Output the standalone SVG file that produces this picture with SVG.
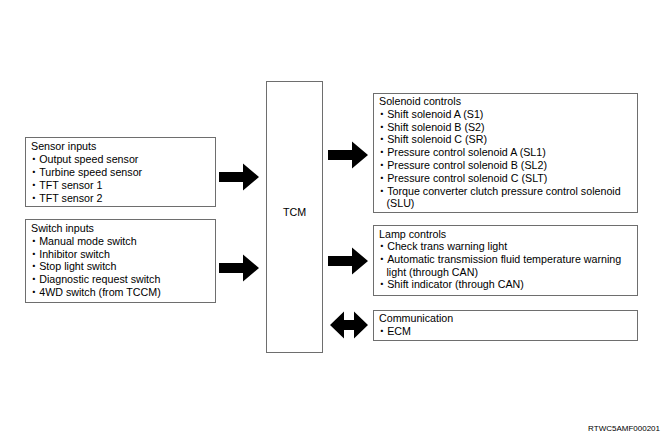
<svg xmlns="http://www.w3.org/2000/svg" width="663" height="436" viewBox="0 0 663 436">
  <style>
    .box { fill: #ffffff; stroke: #6e6e6e; stroke-width: 1; }
    .t { font-family: "Liberation Sans", Arial, "Noto Sans CJK JP", sans-serif; font-size: 10.7px; fill: #000000; }
    .code { font-family: "Liberation Sans", Arial, sans-serif; font-size: 8px; fill: #000000; }
    .arrow { fill: #000000; }
  </style>
  <defs>
    <!-- block arrow pointing right, origin at tail centre -->
    <path id="rarrow" d="M0,-5 L24,-5 L24,-13.5 L40,0 L24,13.5 L24,5 L0,5 Z"/>
    <!-- double-headed block arrow, origin at left tip -->
    <path id="darrow" d="M0,0 L14,-13.5 L14,-5 L24,-5 L24,-13.5 L38,0 L24,13.5 L24,5 L14,5 L14,13.5 Z"/>
  </defs>
  <rect width="663" height="436" fill="#ffffff"/>

  <g id="sensor-inputs">
    <rect class="box" x="25.5" y="137.5" width="190" height="69"/>
    <text class="t" x="31" y="149.5">Sensor inputs</text>
    <text class="t" x="28.5" y="162.5">・Output speed sensor</text>
    <text class="t" x="28.5" y="175.5">・Turbine speed sensor</text>
    <text class="t" x="28.5" y="188.5">・TFT sensor 1</text>
    <text class="t" x="28.5" y="201.5">・TFT sensor 2</text>
  </g>

  <g id="switch-inputs">
    <rect class="box" x="25.5" y="219.5" width="190" height="83"/>
    <text class="t" x="31" y="232">Switch inputs</text>
    <text class="t" x="28.5" y="244.8">・Manual mode switch</text>
    <text class="t" x="28.5" y="257.6">・Inhibitor switch</text>
    <text class="t" x="28.5" y="270.4">・Stop light switch</text>
    <text class="t" x="28.5" y="283.2">・Diagnostic request switch</text>
    <text class="t" x="28.5" y="296">・4WD switch (from TCCM)</text>
  </g>

  <g id="tcm">
    <rect class="box" x="266.5" y="81.5" width="56" height="271"/>
    <text class="t" x="294.5" y="216" text-anchor="middle">TCM</text>
  </g>

  <g id="solenoid-controls">
    <rect class="box" x="373.5" y="93.5" width="264" height="119"/>
    <text class="t" x="379" y="105">Solenoid controls</text>
    <text class="t" x="376.5" y="117.8">・Shift solenoid A (S1)</text>
    <text class="t" x="376.5" y="130.6">・Shift solenoid B (S2)</text>
    <text class="t" x="376.5" y="143.4">・Shift solenoid C (SR)</text>
    <text class="t" x="376.5" y="156.2">・Pressure control solenoid A (SL1)</text>
    <text class="t" x="376.5" y="169">・Pressure control solenoid B (SL2)</text>
    <text class="t" x="376.5" y="181.8">・Pressure control solenoid C (SLT)</text>
    <text class="t" x="376.5" y="194.6">・Torque converter clutch pressure control solenoid</text>
    <text class="t" x="386.5" y="207.4">(SLU)</text>
  </g>

  <g id="lamp-controls">
    <rect class="box" x="373.5" y="225.5" width="264" height="70"/>
    <text class="t" x="379" y="237.5">Lamp controls</text>
    <text class="t" x="376.5" y="250.2">・Check trans warning light</text>
    <text class="t" x="376.5" y="262.9">・Automatic transmission fluid temperature warning</text>
    <text class="t" x="386.5" y="275.6">light (through CAN)</text>
    <text class="t" x="376.5" y="288.3">・Shift indicator (through CAN)</text>
  </g>

  <g id="communication">
    <rect class="box" x="373.5" y="310.5" width="264" height="30"/>
    <text class="t" x="379" y="322">Communication</text>
    <text class="t" x="376.5" y="334.8">・ECM</text>
  </g>

  <g id="connectors" class="arrow">
    <use href="#rarrow" x="219" y="177"/>
    <use href="#rarrow" x="219" y="268"/>
    <use href="#rarrow" x="328" y="155"/>
    <use href="#rarrow" x="328" y="261"/>
    <use href="#darrow" x="330" y="325"/>
  </g>

  <text class="code" x="660" y="431" text-anchor="end">RTWC5AMF000201</text>
</svg>
